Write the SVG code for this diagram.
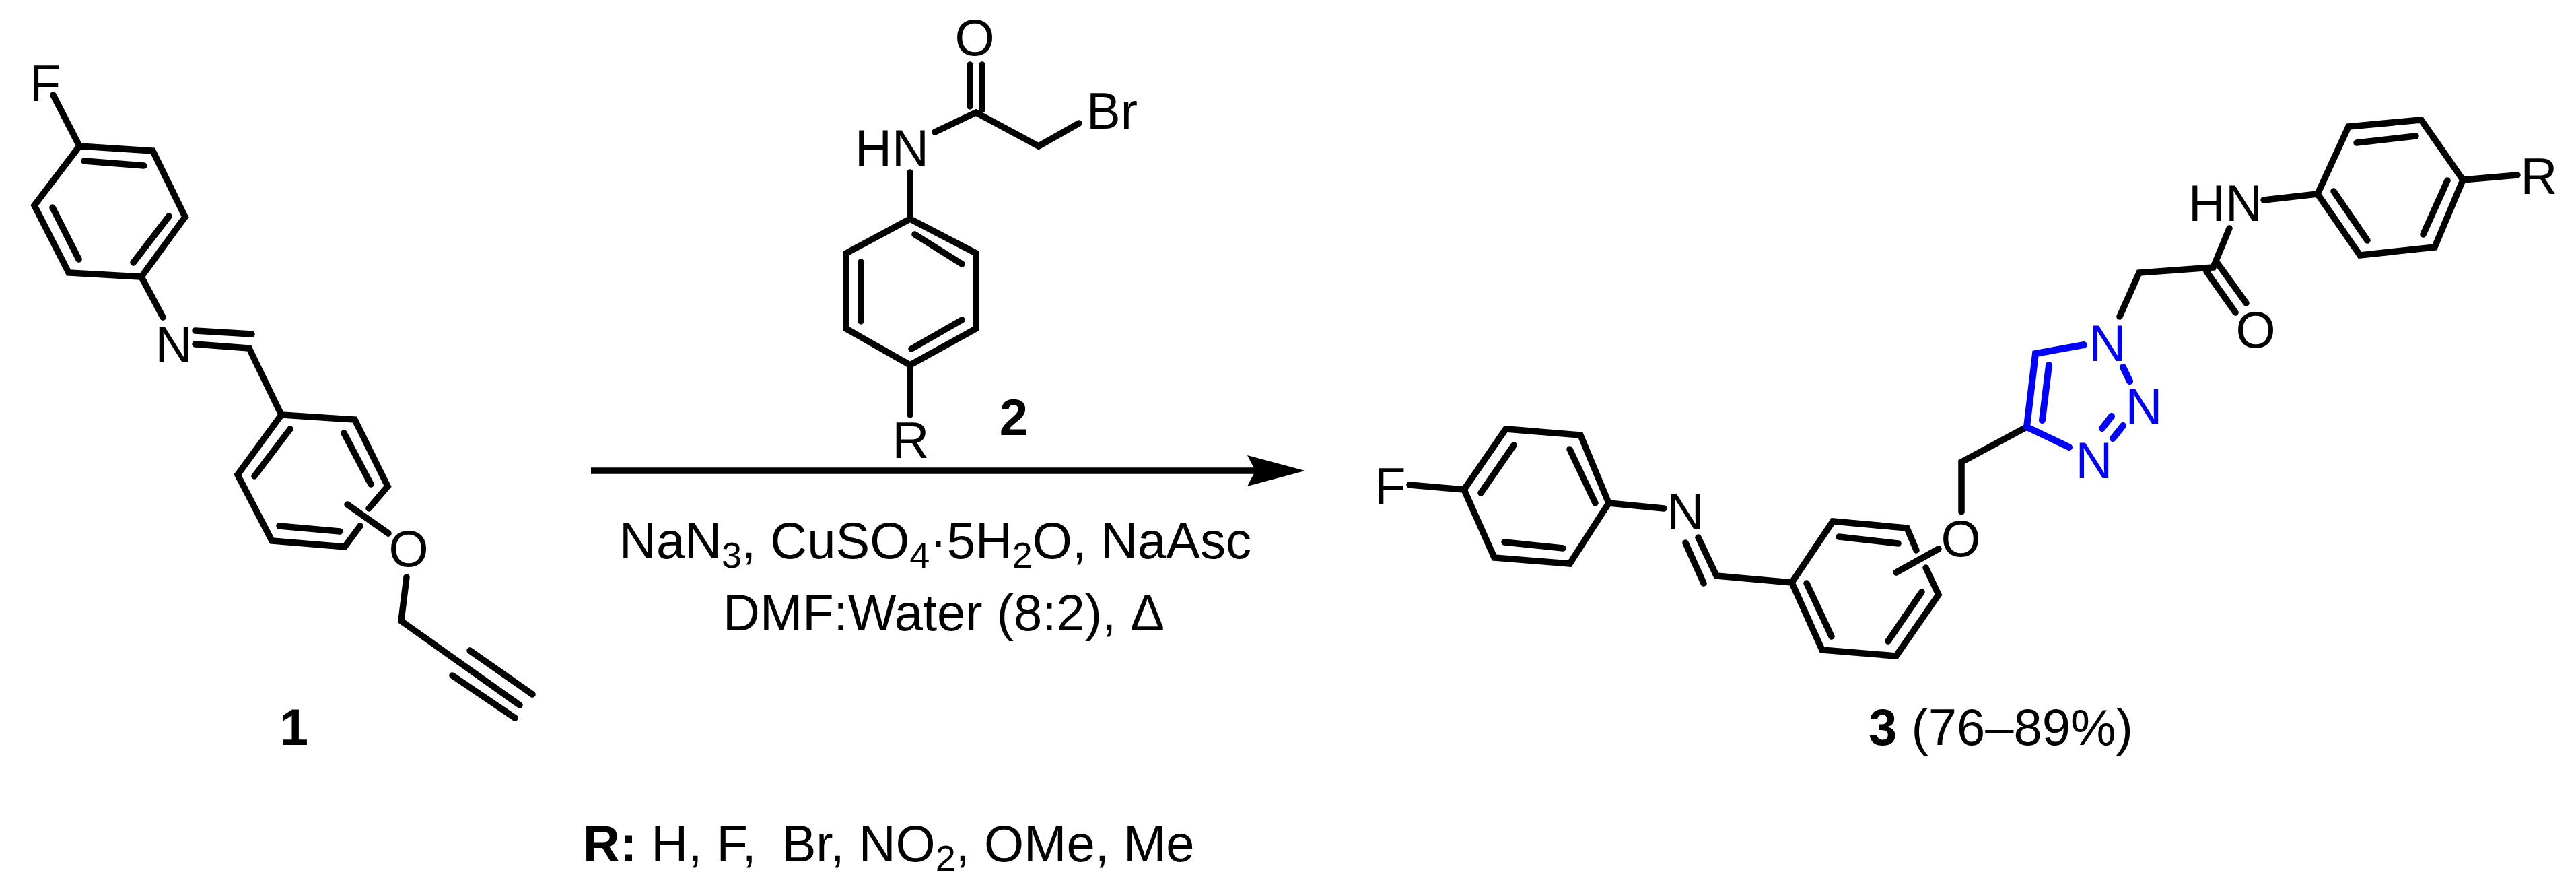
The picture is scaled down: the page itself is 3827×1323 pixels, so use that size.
<svg xmlns="http://www.w3.org/2000/svg" width="3827" height="1323" viewBox="0 0 3827 1323">
<style>
text{font-family:"Liberation Sans",Arial,sans-serif;font-size:76px;fill:#000}
.b{font-weight:bold}
.m{text-anchor:middle}
.blue{fill:#0000ff}
.s{font-size:54px}
path{fill:none;stroke:#000;stroke-width:9.5;stroke-linecap:round;stroke-linejoin:miter}
.tb{stroke:#0000ff;stroke-width:10}
</style>
<defs>
<marker id="head" markerUnits="userSpaceOnUse" markerWidth="90" markerHeight="50" refX="22" refY="25" orient="auto"><polygon points="0,2 86,25 0,48 12,25" fill="#000"/></marker>
</defs>
<rect width="3827" height="1323" fill="#fff"/>
<g id="compound-1">
<text x="67" y="150" class="m">F</text>
<path d="M79 141L118 217L227 224L275 322L210 411L102 405L51 305L118 217M125 239L214 246M198 390L251 321M117 385L78 308M210 411L242 471"/>
<text x="258" y="538" class="m">N</text>
<path d="M290 491L374 496M290 511L370 517L418 616L527 623L576 722L548 755M535 781L512 812L404 803L353 705L418 616M431 637L378 707M511 643L551 719M415 781L505 789M516 749L577 792"/>
<text x="607" y="841" class="m">O</text>
<path d="M604 857L596 922L772 1047M698 966L791 1031M672 1003L765 1066"/>
<text x="437" y="1106" class="m b">1</text>
</g>
<g id="compound-2">
<text x="1448" y="82" class="m">O</text>
<path d="M1441 96L1441 158M1459 96L1459 163M1389 196L1450 167L1543 217L1603 183"/>
<text x="1614" y="191">Br</text>
<text x="1270" y="246">HN</text>
<path d="M1352 256L1352 325L1450 376L1450 488L1352 542L1257 488L1257 376L1352 325M1359 348L1429 392M1279 389L1279 477M1429 475L1354 518M1352 542L1352 616"/>
<text x="1353" y="680" class="m">R</text>
<text x="1506" y="646" class="m b">2</text>
</g>
<g id="connectors">
<line id="reaction-arrow" x1="878" y1="699" x2="1875" y2="699" stroke="#000" stroke-width="9.5" marker-end="url(#head)"/>
</g>
<g id="conditions">
<text x="920" y="829">NaN<tspan class="s" dy="14">3</tspan><tspan dy="-14">, CuSO</tspan><tspan class="s" dy="14">4</tspan><tspan dy="-14">·5H</tspan><tspan class="s" dy="14">2</tspan><tspan dy="-14">O, NaAsc</tspan></text>
<text x="1074" y="936">DMF:Water (8:2), Δ</text>
</g>
<g id="compound-3">
<text x="2042" y="748">F</text>
<path d="M2094 720L2175 727L2237 637L2348 646L2390 747L2332 837L2220 828L2175 727M2200 732L2249 661M2332 667L2370 747M2235 805L2322 814M2390 747L2472 755"/>
<text x="2504" y="786" class="m">N</text>
<path d="M2523 798L2550 855L2662 865L2723 774L2833 784L2847 817M2504 806L2531 866M2861 843L2880 883L2817 974L2707 965L2662 865M2732 797L2820 807M2684 866L2721 945M2805 952L2855 879M2817 850L2880 815"/>
<text x="2913" y="826" class="m">O</text>
<path d="M2914 760L2914 686L3011 634"/>
<g id="triazole">
<path class="tb" d="M3011 634L3074 664M3011 634L3024 525L3096 512M3034 624L3044 542M3154 545L3164 566M3154 632L3139 651M3137 618L3123 636"/>
<text x="3131" y="536" class="m blue">N</text>
<text x="3185" y="630" class="m blue">N</text>
<text x="3111" y="710" class="m blue">N</text>
</g>
<path d="M3149 470L3178 405L3288 397L3312 339M3278 403L3321 464M3293 389L3337 450"/>
<text x="3351" y="516" class="m">O</text>
<text x="3251" y="328">HN</text>
<path d="M3363 297L3443 288L3489 188L3597 178L3659 267L3617 367L3506 379L3443 288M3501 212L3589 202M3467 284L3517 357M3636 268L3600 348M3659 267L3740 260"/>
<text x="3772" y="288" class="m">R</text>
<text x="2776" y="1106"><tspan class="b">3</tspan> (76–89%)</text>
</g>
<g id="legend">
<text x="866" y="1279"><tspan class="b">R:</tspan> H, F, <tspan dx="17">Br, NO</tspan><tspan class="s" dy="14">2</tspan><tspan dy="-14">, OMe, Me</tspan></text>
</g>
</svg>
